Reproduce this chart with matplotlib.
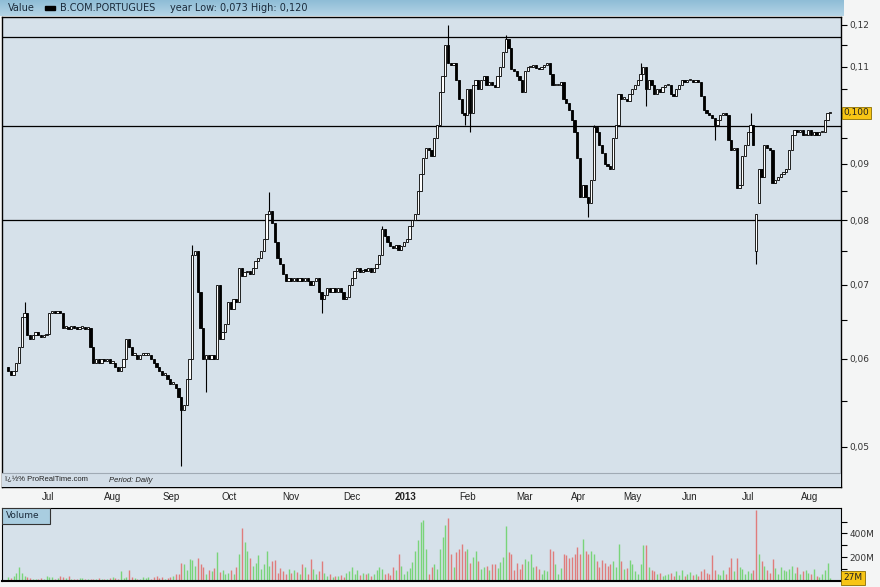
import matplotlib
matplotlib.use("Agg")
import matplotlib.pyplot as plt
import matplotlib.transforms as mtransforms
from matplotlib.patches import Rectangle
from matplotlib.ticker import NullFormatter
import numpy as np

# daily closes, mid-June 2012 .. mid-August 2013
closes = [
    0.0585, 0.0580, 0.0585, 0.0595, 0.0615, 0.0655, 0.0660, 0.0630, 0.0625, 0.0630,
    0.0635, 0.0630, 0.0628, 0.0630, 0.0632, 0.0660, 0.0662, 0.0660, 0.0662, 0.0660,
    0.0640, 0.0640, 0.0638, 0.0642, 0.0640, 0.0638, 0.0640, 0.0640, 0.0638, 0.0640,
    0.0615, 0.0595, 0.0600, 0.0595, 0.0600, 0.0598, 0.0600, 0.0595, 0.0595, 0.0590,
    0.0585, 0.0590, 0.0600, 0.0625, 0.0615, 0.0605, 0.0605, 0.0600, 0.0605, 0.0605,
    0.0605, 0.0605, 0.0600, 0.0595, 0.0590, 0.0585, 0.0580, 0.0580, 0.0575, 0.0570,
    0.0570, 0.0565, 0.0555, 0.0540, 0.0545, 0.0575, 0.0600, 0.0745, 0.0750, 0.0690,
    0.0640, 0.0600, 0.0605, 0.0600, 0.0605, 0.0600, 0.0700, 0.0625, 0.0635, 0.0645,
    0.0675, 0.0665, 0.0680, 0.0675, 0.0725, 0.0712, 0.0718, 0.0720, 0.0715, 0.0725,
    0.0735, 0.0740, 0.0750, 0.0770, 0.0810, 0.0815, 0.0795, 0.0765, 0.0740, 0.0730,
    0.0715, 0.0705, 0.0710, 0.0705, 0.0710, 0.0705, 0.0710, 0.0705, 0.0710, 0.0705,
    0.0700, 0.0705, 0.0710, 0.0690, 0.0680, 0.0685, 0.0695, 0.0690, 0.0695, 0.0690,
    0.0695, 0.0690, 0.0680, 0.0683, 0.0700, 0.0710, 0.0720, 0.0725, 0.0718, 0.0722,
    0.0720, 0.0725, 0.0718, 0.0725, 0.0730, 0.0745, 0.0785, 0.0775, 0.0765, 0.0758,
    0.0755, 0.0760, 0.0752, 0.0758, 0.0765, 0.0770, 0.0790, 0.0800, 0.0810, 0.0850,
    0.0880, 0.0910, 0.0930, 0.0925, 0.0915, 0.0950, 0.0975, 0.1045, 0.1080, 0.1150,
    0.1110, 0.1105, 0.1110, 0.1070, 0.1030, 0.1000, 0.0995, 0.1050, 0.1000, 0.1060,
    0.1070, 0.1050, 0.1070, 0.1080, 0.1060, 0.1065, 0.1060, 0.1055, 0.1080, 0.1100,
    0.1135, 0.1165, 0.1145, 0.1095, 0.1090, 0.1080, 0.1070, 0.1045, 0.1090, 0.1100,
    0.1100, 0.1105, 0.1098, 0.1095, 0.1100, 0.1105, 0.1110, 0.1085, 0.1060, 0.1060,
    0.1060, 0.1065, 0.1030, 0.1020, 0.1005, 0.0985, 0.0960, 0.0910, 0.0840, 0.0860,
    0.0840, 0.0830, 0.0870, 0.0970, 0.0960, 0.0935, 0.0920, 0.0900, 0.0895, 0.0890,
    0.0950, 0.0975, 0.1040, 0.1030, 0.1030, 0.1025, 0.1040, 0.1050, 0.1060, 0.1070,
    0.1085, 0.1100, 0.1050, 0.1070, 0.1060, 0.1040, 0.1050, 0.1045, 0.1055, 0.1060,
    0.1060, 0.1040, 0.1035, 0.1050, 0.1060, 0.1070, 0.1065, 0.1070, 0.1070, 0.1065,
    0.1070, 0.1065, 0.1035, 0.1005, 0.1000, 0.0995, 0.0990, 0.0975, 0.0985, 0.0995,
    0.1000, 0.0995, 0.0945, 0.0925, 0.0930, 0.0855, 0.0860, 0.0915, 0.0935, 0.0960,
    0.0975, 0.0935, 0.0810, 0.0890, 0.0875, 0.0935, 0.0930, 0.0925, 0.0865, 0.0870,
    0.0875, 0.0880, 0.0885, 0.0890, 0.0925, 0.0955, 0.0965, 0.0960, 0.0965, 0.0955,
    0.0955, 0.0965, 0.0955, 0.0960, 0.0955, 0.0960, 0.0960, 0.0985, 0.1000, 0.1000,
]
# opens follow the previous close except on gap days
gap_opens = {0: 0.0590, 272: 0.0750, 273: 0.0830}
wick_highs = {6: 0.0675, 67: 0.0760, 95: 0.0848, 136: 0.0790, 160: 0.1200,
              181: 0.1175, 213: 0.0975, 230: 0.1110, 270: 0.1000}
wick_lows = {63: 0.0480, 72: 0.0560, 114: 0.0660, 166: 0.0975, 168: 0.0960,
             211: 0.0805, 232: 0.1015, 257: 0.0945, 272: 0.0730}

volumes = [  # millions of shares
    30, 25, 45, 70, 120, 70, 45, 30, 25, 20,
    20, 15, 25, 18, 40, 35, 30, 20, 28, 45,
    30, 25, 40, 20, 15, 18, 25, 22, 20, 15,
    18, 15, 20, 25, 15, 20, 18, 25, 30, 22,
    20, 80, 25, 30, 92, 35, 25, 18, 20, 30,
    25, 30, 20, 35, 40, 25, 30, 20, 28, 35,
    40, 55, 60, 150, 140, 90, 185, 175, 130, 195,
    140, 120, 60, 90, 80, 110, 245, 75, 90, 60,
    70, 90, 60, 120, 230, 445, 330, 255, 195, 130,
    150, 220, 100, 140, 255, 130, 165, 175, 70, 110,
    80, 60, 100, 70, 90, 75, 60, 145, 115, 60,
    185, 100, 60, 80, 165, 70, 40, 60, 30, 45,
    40, 50, 30, 70, 80, 115, 60, 90, 50, 70,
    55, 70, 40, 60, 90, 120, 100, 60, 70, 50,
    120, 90, 230, 130, 60, 80, 110, 160, 255, 345,
    500, 515, 270, 60, 115, 140, 100, 270, 370, 470,
    530, 230, 120, 245, 265, 315, 255, 270, 150, 200,
    255, 170, 100, 115, 130, 90, 145, 140, 110, 160,
    200, 460, 245, 230, 90, 155, 100, 145, 185, 170,
    230, 120, 130, 100, 60, 90, 80, 270, 255, 140,
    60, 110, 230, 215, 195, 200, 230, 285, 230, 355,
    255, 230, 255, 230, 170, 120, 175, 155, 130, 140,
    170, 120, 315, 170, 100, 110, 175, 140, 80, 60,
    140, 300, 300, 115, 90, 80, 60, 70, 45, 50,
    60, 70, 45, 80, 50, 90, 40, 60, 75, 50,
    55, 40, 80, 100, 70, 60, 215, 90, 60, 50,
    90, 60, 120, 195, 80, 195, 115, 100, 60, 80,
    70, 90, 600, 230, 170, 130, 90, 70, 185, 110,
    60, 120, 90, 80, 100, 130, 70, 115, 60, 80,
    90, 70, 60, 100, 40, 30, 60, 95, 155, 27,
]

month_labels = ["Jul", "Aug", "Sep", "Oct", "Nov", "Dec", "2013",
                "Feb", "Mar", "Apr", "May", "Jun", "Jul", "Aug"]
month_pos = [14.5, 38, 59.5, 80.5, 103, 125, 144.5,
             167, 188, 207.5, 227, 248, 269, 291.5]
level_lines = [0.117, 0.0973, 0.080]
price_ticks = [0.05, 0.06, 0.07, 0.08, 0.09, 0.10, 0.11, 0.12]
price_minor = [0.055, 0.065, 0.075, 0.085, 0.095, 0.105, 0.115]
last_price = 0.100
vol_ticks = [200, 400]
vol_minor = [100, 300, 500]

BG = "#d6e1ea"
FIG_BG = "#f4f5f5"
NARROW = ["Liberation Sans Narrow", "Liberation Sans", "DejaVu Sans"]
W, H = 880, 587

n = len(closes)
idx = np.arange(n)
c = np.array(closes)
o = np.array([gap_opens.get(i, closes[i - 1] if i else closes[0]) for i in range(n)])
hi = np.array([wick_highs.get(i, max(o[i], c[i])) for i in range(n)])
lo = np.array([wick_lows.get(i, min(o[i], c[i])) for i in range(n)])
up = c >= o
vol_up = np.array([True] + [closes[i] >= closes[i - 1] for i in range(1, n)])

fig = plt.figure(figsize=(W / 100, H / 100), dpi=100, facecolor=FIG_BG)


def px_axes(x0, y0, x1, y1):
    return fig.add_axes([x0 / W, 1 - y1 / H, (x1 - x0) / W, (y1 - y0) / H])


# header strip
ax_h = px_axes(0, 0, 843, 16)
grad = np.linspace(0, 1, 16).reshape(-1, 1)
ax_h.imshow(grad, aspect="auto", cmap=matplotlib.colors.LinearSegmentedColormap.from_list(
    "hdr", ["#8fbdd6", "#b4d4e5"]), extent=(0, 1, 0, 1))
ax_h.set_xlim(0, 1)
ax_h.set_ylim(0, 1)
ax_h.axis("off")
ax_h.text(8 / 843, 0.5, "Value", va="center", fontsize=7, color="#1a2a3a")
ax_h.add_patch(Rectangle((45 / 843, 0.4), 10 / 843, 0.2, color="black"))
ax_h.text(60 / 843, 0.5, "B.COM.PORTUGUES", va="center", fontsize=7, color="#1a2a3a")
ax_h.text(170 / 843, 0.5, "year Low: 0,073 High: 0,120", va="center", fontsize=7,
          color="#1a2a3a")

# price panel
ax = px_axes(2, 17, 841, 487)
ax.set_facecolor(BG)
ax.set_yscale("log")
ax.set_xlim(-2.2, 302.9)
ax.set_ylim(0.0460, 0.1220)

ax.vlines(idx, lo, hi, color="black", lw=0.8, zorder=3)
body_lo = np.minimum(o, c)
body_h = np.maximum(np.abs(c - o), 0.00025)
ax.bar(idx, body_h, bottom=body_lo, width=0.85,
       color=np.where(up, "white", "black"), edgecolor="black", lw=0.6, zorder=4)

for lvl in level_lines:
    ax.axhline(lvl, color="black", lw=0.9, zorder=2)

ax.yaxis.tick_right()
ax.set_yticks(price_ticks)
# the last-price tag replaces the 0,10 label
ax.set_yticklabels(["" if t == last_price else f"{t:.2f}".replace(".", ",")
                    for t in price_ticks])
ax.set_yticks(price_minor, minor=True)
ax.yaxis.set_minor_formatter(NullFormatter())
ax.tick_params(axis="y", which="both", direction="out", length=4, width=0.8,
               labelsize=6.5, labelcolor="#333333", pad=2)
ax.set_xticks([])
for sp in ax.spines.values():
    sp.set_linewidth(1.0)

# footer band inside the price panel
fh = 14 / 470
ax.add_patch(Rectangle((0, 0), 1, fh, transform=ax.transAxes, facecolor="#d3dee8",
                       edgecolor="none", zorder=5))
ax.axhline(0.0460 * (0.1220 / 0.0460) ** fh, color="#a0aab4", lw=0.8, zorder=6)
ax.text(3 / 839, fh / 2, "ï¿½% ProRealTime.com", transform=ax.transAxes, va="center",
        fontsize=5.5, color="#222222", zorder=7, family=NARROW)
ax.text(107 / 839, fh / 2, "Period: Daily", transform=ax.transAxes, va="center",
        fontsize=5.5, style="italic", color="#222222", zorder=7, family=NARROW)

# last price tag
ax.text(1.003, last_price, "0,100", transform=mtransforms.blended_transform_factory(
    ax.transAxes, ax.transData), va="center", ha="left", fontsize=6.5, color="#222222",
    bbox=dict(boxstyle="square,pad=0.2", facecolor="#f7c515", edgecolor="#8a6d00", lw=0.6),
    zorder=8, clip_on=False)

# month labels
trans = mtransforms.blended_transform_factory(ax.transData, ax.transAxes)
for pos, lab in zip(month_pos, month_labels):
    ax.text(pos, -10 / 470, lab, transform=trans, ha="center", va="center", fontsize=7,
            fontweight="bold" if lab == "2013" else "normal", color="#222222",
            family=NARROW)

# volume panel
ax_v = px_axes(2, 508, 841, 581)
ax_v.set_facecolor(BG)
ax_v.set_xlim(-2.2, 302.9)
ax_v.set_ylim(0, 614)
ax_v.vlines(idx, 0, volumes, colors=np.where(vol_up, "#79d479", "#e07c7c"), lw=1.0)
ax_v.yaxis.tick_right()
ax_v.set_yticks(vol_ticks)
ax_v.set_yticklabels([f"{t}M" for t in vol_ticks])
ax_v.set_yticks(vol_minor, minor=True)
ax_v.tick_params(axis="y", which="both", direction="out", length=4, width=0.8,
                 labelsize=6.5, labelcolor="#333333", pad=2)
ax_v.set_xticks([])
ax_v.spines["bottom"].set_linewidth(1.5)
ax_v.add_patch(Rectangle((0, 1 - 16 / 73), 48 / 839, 16 / 73, transform=ax_v.transAxes,
                         facecolor="#a9cde0", edgecolor="#333333", lw=0.8, zorder=5))
ax_v.text(4 / 839, 1 - 8 / 73, "Volume", transform=ax_v.transAxes, va="center",
          fontsize=6.5, color="#1a2a3a", zorder=6)
ax_v.text(1.003, volumes[-1], f"{volumes[-1]}M",
          transform=mtransforms.blended_transform_factory(ax_v.transAxes, ax_v.transData),
          va="center", ha="left", fontsize=6.5, color="#222222", clip_on=False,
          bbox=dict(boxstyle="square,pad=0.3", facecolor="#f7c515", edgecolor="#8a6d00",
                    lw=0.6))

fig.savefig("out.png", dpi=100, facecolor=FIG_BG)
